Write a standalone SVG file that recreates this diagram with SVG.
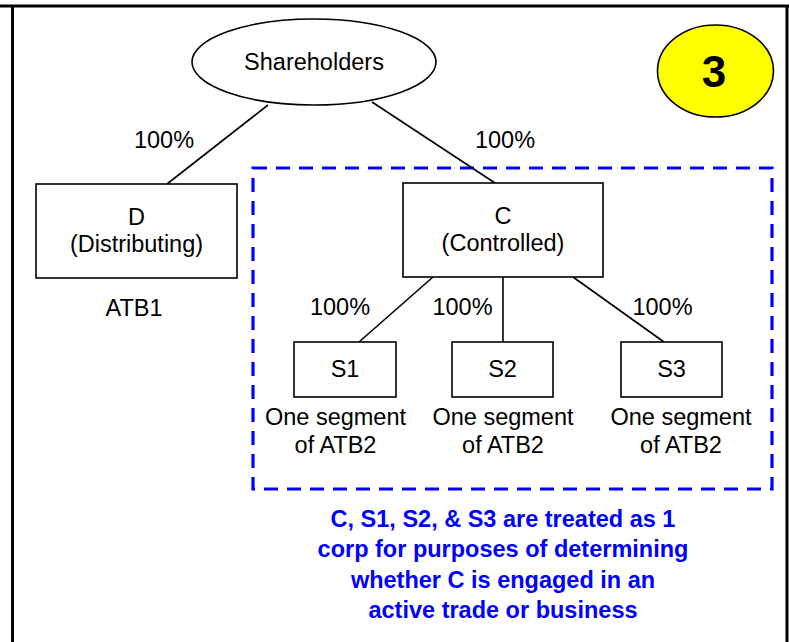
<svg xmlns="http://www.w3.org/2000/svg" width="789" height="642" viewBox="0 0 789 642">
<style>
  .t { font-family: "Liberation Sans", Arial, sans-serif; font-size: 23.5px; fill: #000; text-anchor: middle; }
  .b { font-family: "Liberation Sans", Arial, sans-serif; font-size: 23.5px; font-weight: bold; fill: #0000FF; text-anchor: middle; }
  .box { fill: #fff; stroke: #000; stroke-width: 1.6; }
  .ln { stroke: #000; stroke-width: 1.6; fill: none; }
</style>
<rect x="0" y="0" width="789" height="642" fill="#fff"/>
<g id="frame" stroke="#000" stroke-width="3" fill="none">
  <line x1="0" y1="6" x2="789" y2="6"/>
  <line x1="12.5" y1="6" x2="12.5" y2="642"/>
  <line x1="787" y1="6" x2="787" y2="642"/>
</g>
<g id="group-box">
  <rect x="253" y="168" width="519" height="321" fill="none" stroke="#0000FF" stroke-width="3.2" stroke-dasharray="14 9"/>
</g>
<g id="connectors">
  <line class="ln" x1="268" y1="105" x2="167" y2="184"/>
  <line class="ln" x1="372" y1="102" x2="495" y2="183"/>
  <line class="ln" x1="433" y1="277" x2="359" y2="342"/>
  <line class="ln" x1="503" y1="277" x2="503" y2="342"/>
  <line class="ln" x1="573" y1="277" x2="664" y2="342"/>
</g>
<g id="shareholders">
  <ellipse cx="314" cy="62" rx="122" ry="43" class="box"/>
  <text class="t" x="314" y="70">Shareholders</text>
</g>
<g id="badge">
  <ellipse cx="715.5" cy="71" rx="58" ry="46" fill="#FFFF00" stroke="#000" stroke-width="1.6"/>
  <text x="714" y="87" font-family="Liberation Sans, Arial, sans-serif" font-size="44" font-weight="bold" text-anchor="middle" fill="#000">3</text>
</g>
<g id="node-D">
  <rect class="box" x="36" y="184" width="201" height="94"/>
  <text class="t" x="136.5" y="225">D</text>
  <text class="t" x="136.5" y="252">(Distributing)</text>
</g>
<g id="node-C">
  <rect class="box" x="403" y="183" width="200" height="94"/>
  <text class="t" x="503" y="224">C</text>
  <text class="t" x="503" y="251">(Controlled)</text>
</g>
<g id="node-S1">
  <rect class="box" x="294" y="342" width="102" height="55"/>
  <text class="t" x="345" y="377">S1</text>
</g>
<g id="node-S2">
  <rect class="box" x="452" y="342" width="101" height="55"/>
  <text class="t" x="502.5" y="377">S2</text>
</g>
<g id="node-S3">
  <rect class="box" x="621" y="342" width="101" height="55"/>
  <text class="t" x="671.5" y="377">S3</text>
</g>
<g id="labels">
  <text class="t" x="164" y="148">100%</text>
  <text class="t" x="505" y="148">100%</text>
  <text class="t" x="340" y="315">100%</text>
  <text class="t" x="462.5" y="315">100%</text>
  <text class="t" x="662.5" y="315">100%</text>
  <text class="t" x="134" y="316">ATB1</text>
  <text class="t" x="335.5" y="425">One segment</text>
  <text class="t" x="335.5" y="453">of ATB2</text>
  <text class="t" x="503" y="425">One segment</text>
  <text class="t" x="503" y="453">of ATB2</text>
  <text class="t" x="681" y="425">One segment</text>
  <text class="t" x="681" y="453">of ATB2</text>
</g>
<g id="note">
  <text class="b" x="503" y="527">C, S1, S2, &amp; S3 are treated as 1</text>
  <text class="b" x="503" y="557">corp for purposes of determining</text>
  <text class="b" x="503" y="588">whether C is engaged in an</text>
  <text class="b" x="503" y="618">active trade or business</text>
</g>
</svg>
